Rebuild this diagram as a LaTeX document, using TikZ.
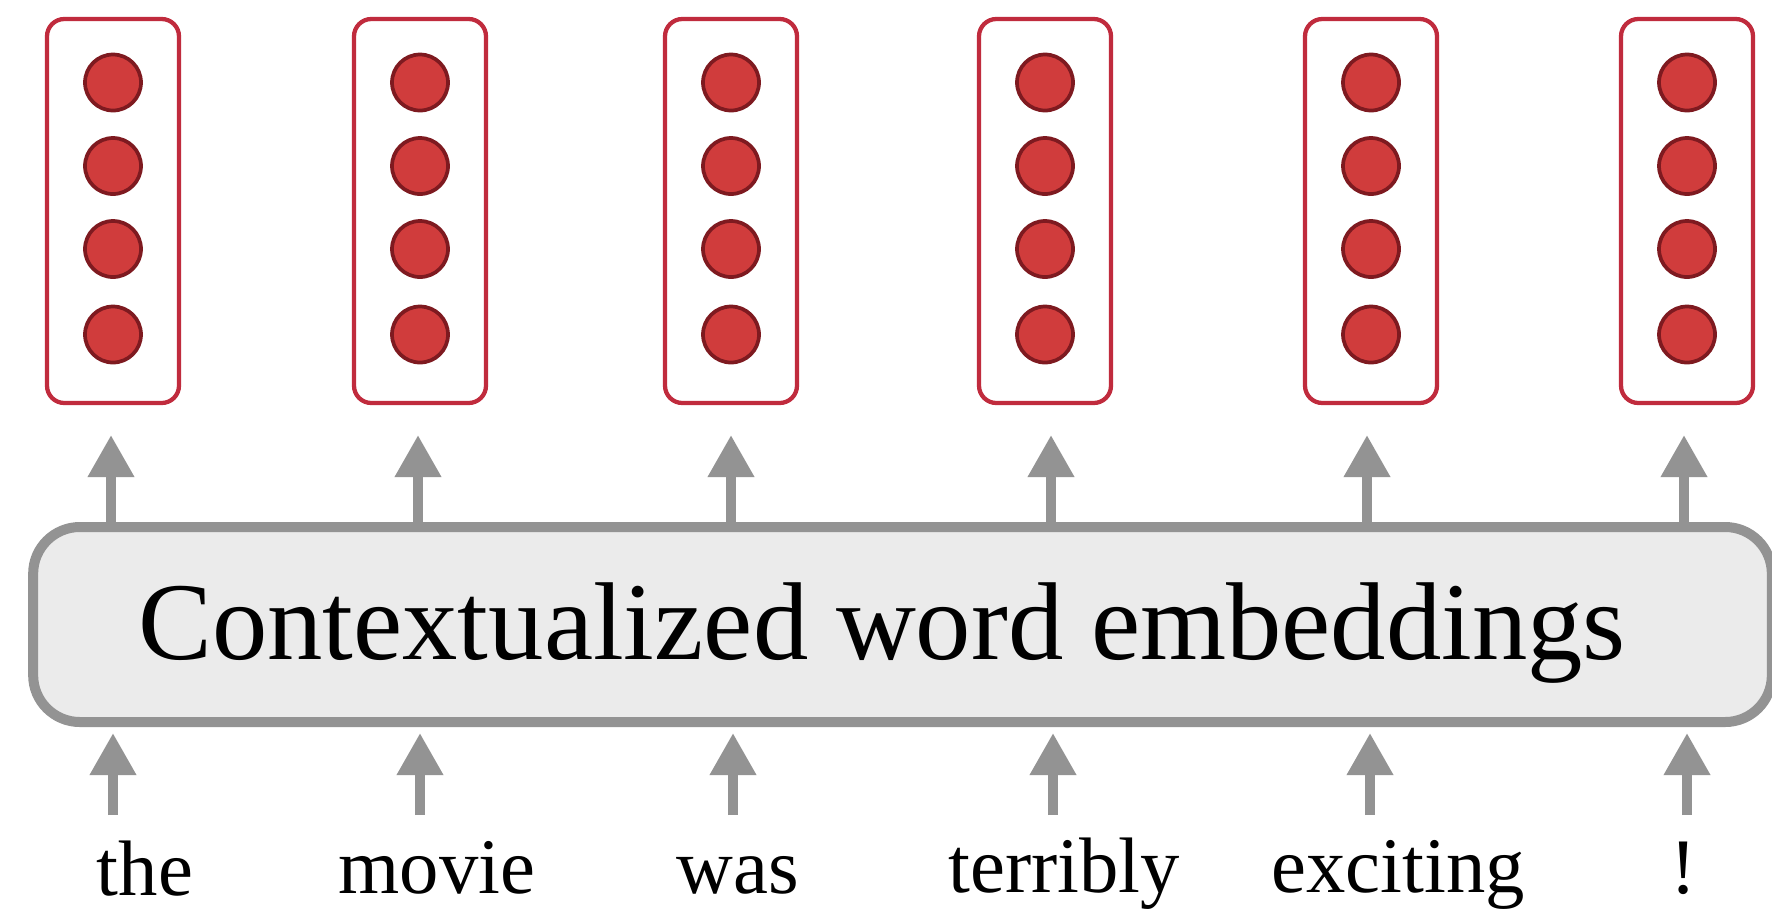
\documentclass[tikz,border=0pt]{standalone}
\usepackage{fontspec}
\setmainfont{Liberation Serif}
\usetikzlibrary{arrows.meta}
\definecolor{arrgray}{HTML}{939393}
\definecolor{boxfill}{HTML}{EBEBEB}
\definecolor{vecred}{HTML}{C02B3D}
\definecolor{neufill}{HTML}{D03C3C}
\definecolor{neuline}{HTML}{7E1A20}
\tikzset{
  vecbox/.style={draw=vecred, line width=3.2pt, fill=white, rounded corners=13pt,
    minimum width=99pt, minimum height=288pt, inner sep=0pt},
  neuron/.style={circle, draw=neuline, fill=neufill, line width=2.8pt,
    minimum size=42pt, inner sep=0pt},
  ctxbox/.style={draw=arrgray, fill=boxfill, line width=7.5pt, rounded corners=35pt,
    minimum width=1304pt, minimum height=146.25pt, inner sep=0pt},
  titletext/.style={anchor=base, inner sep=0pt, font=\fontsize{83}{90}\selectfont},
  wordtext/.style={anchor=base, inner sep=0pt, font=\fontsize{59}{66}\selectfont},
  arr/.style={draw=arrgray, line width=7.5pt, -{Triangle[width=33pt,length=31.5pt]}}
}
\begin{document}
\begin{tikzpicture}[x=0.75pt,y=-0.75pt]
\useasboundingbox (0,0) rectangle (1772,908);
\node[ctxbox] (ctx) at (902.5,624.5) {};
\node[titletext] (title) at (882,659) {Contextualized word embeddings};
\foreach \i/\bx/\ta/\ba/\wx/\w/\wy in {1/113/111/113/145/the/895, 2/420/418/420/437/movie/893, 3/731/731/733/738/was/893, 4/1045/1051/1053/1064/terribly/892, 5/1371/1367/1370/1398/exciting/892, 6/1687/1684/1687/1684/!/893}
{
  \node[vecbox] (v\i) at (\bx,211) {};
  \foreach \j/\y in {1/82.5,2/166,3/249,4/334.5}
    \node[neuron] (n\i\j) at (\bx,\y) {};
  \node[wordtext] (w\i) at (\wx,\wy) {\w};
  \coordinate (tt\i) at (\ta,435);
  \draw[arr] (ctx.north -| tt\i) -- (tt\i);
  \coordinate (bs\i) at (\ba,815);
  \draw[arr, shorten >=4.5pt] (bs\i) -- (bs\i |- ctx.south);
}
\end{tikzpicture}
\end{document}
